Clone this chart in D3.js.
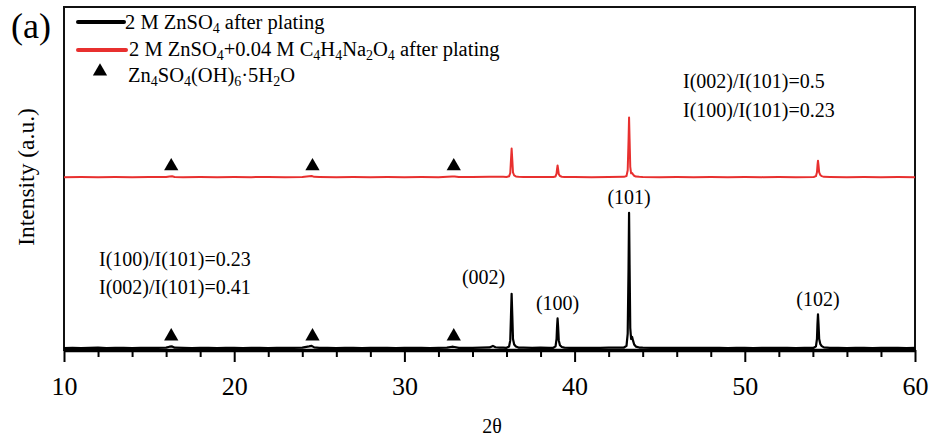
<!DOCTYPE html>
<html>
<head>
<meta charset="utf-8">
<script src="https://cdn.jsdelivr.net/npm/d3@7"></script>
<style>
  html, body { margin: 0; padding: 0; background: #fff; }
  svg { display: block; }
  text { font-family: "Liberation Serif", "Times New Roman", serif; fill: #000; }
</style>
</head>
<body>
<svg id="chart" width="935" height="444"></svg>
<script>
// XRD patterns of Zn deposits, [2θ (deg), intensity (counts)]
const pattern_ZnSO4 = [
  [10,14],[10.5,16],[11,13],[11.5,15],[12,17],[12.5,14],[13,15],[13.5,16],[14,14],[14.5,15],
  [15,16],[15.5,15],[16.0,17],[16.2,24],[16.35,26],[16.5,17],[17,15],[17.5,14],[18,16],[18.5,15],
  [19,14],[19.5,16],[20,15],[20.5,14],[21,16],[21.5,15],[22,14],[22.5,16],[23,15],[23.5,16],
  [24,17],[24.4,26],[24.55,30],[24.7,19],[25,16],[25.5,15],[26,14],[26.5,16],[27,15],[27.5,14],
  [28,15],[28.5,16],[29,15],[29.5,14],[30,15],[30.5,16],[31,15],[31.5,14],[32,16],[32.5,17],
  [32.8,24],[32.95,22],[33.2,16],[33.5,15],[34,16],[34.5,17],[35,19],[35.2,30],[35.35,20],[35.6,17],
  [35.8,18],[36.0,16],[36.15,25],[36.22,70],[36.26,240],[36.3,410],[36.34,250],[36.38,80],[36.45,40],[36.55,25],
  [36.7,18],[37,17],[37.5,16],[38,17],[38.5,16],[38.75,16],[38.88,26],[38.94,80],[38.97,170],[39.0,230],
  [39.03,170],[39.07,70],[39.14,35],[39.25,22],[39.4,17],[39.7,16],[40,15],[40.5,16],[41,15],[41.5,16],
  [42,17],[42.5,17],[42.9,18],[43.05,30],[43.12,120],[43.17,600],[43.2,1000],[43.23,620],[43.27,160],[43.32,80],
  [43.38,95],[43.43,70],[43.5,40],[43.6,25],[43.8,18],[44,17],[44.5,16],[45,15],[45.5,16],[46,15],
  [46.5,16],[47,16],[47.5,15],[48,15],[48.5,16],[49,14],[49.5,15],[50,15],[50.5,14],[51,16],
  [51.5,15],[52,15],[52.5,16],[53,14],[53.5,16],[54.05,16],[54.18,26],[54.24,80],[54.27,190],[54.3,260],
  [54.33,190],[54.37,80],[54.44,42],[54.52,28],[54.65,19],[55,16],[55.5,15],[56,14],[56.5,15],[57,16],
  [57.5,14],[58,15],[58.5,16],[59,15],[59.5,14],[60,15]
];

const pattern_ZnSO4_C4H4Na2O4 = [
  [10,20],[11,21],[12,20],[13,21],[14,20],[15,21],[16.0,21],[16.2,25],[16.35,26],[16.5,21],
  [17,20],[18,21],[19,20],[20,21],[21,20],[22,21],[23,20],[24,21],[24.4,26],[24.55,28],
  [24.7,22],[25,21],[26,20],[27,21],[28,20],[29,21],[30,20],[31,21],[32,20],[32.8,25],
  [32.95,24],[33.2,21],[34,21],[35,22],[35.8,22],[36.0,21],[36.15,26],[36.22,50],[36.26,140],[36.3,228],
  [36.34,145],[36.38,55],[36.45,32],[36.55,25],[36.7,22],[37,21],[38,21],[38.75,21],[38.88,25],[38.94,45],
  [38.97,80],[39.0,105],[39.03,80],[39.07,42],[39.14,28],[39.25,23],[39.4,21],[40,21],[41,20],[42,21],
  [42.9,22],[43.05,28],[43.12,70],[43.17,290],[43.2,455],[43.23,300],[43.27,95],[43.32,48],[43.38,50],[43.43,40],
  [43.5,30],[43.6,24],[43.8,22],[44,21],[45,20],[46,21],[47,20],[48,21],[49,20],[50,21],
  [51,20],[52,21],[53,20],[54.05,21],[54.18,27],[54.24,55],[54.27,105],[54.3,140],[54.33,108],[54.37,55],
  [54.44,35],[54.52,27],[54.65,22],[55,21],[56,20],[57,21],[58,20],[59,21],[60,20]
];

// vertical shift of the stacked upper pattern (counts)
const stackOffset = 1240;

// Zn4SO4(OH)6·5H2O reflections marked on both patterns
const hydroxySulfatePeaks = [16.3, 24.6, 32.9];
const markerLevel = 100;

// Zn reflections labelled on the lower pattern
const znPeakLabels = [
  { hkl: "(002)", pos: 36.3, I: 410 },
  { hkl: "(100)", pos: 39.0, I: 230 },
  { hkl: "(101)", pos: 43.2, I: 1000 },
  { hkl: "(102)", pos: 54.3, I: 260 }
];

const xMajorTicks = [10, 20, 30, 40, 50, 60];
const xMinorTicks = [12, 14, 16, 18, 22, 24, 26, 28, 32, 34, 36, 38, 42, 44, 46, 48, 52, 54, 56, 58];

const ratiosUpper = ["I(002)/I(101)=0.5", "I(100)/I(101)=0.23"];
const ratiosLower = ["I(100)/I(101)=0.23", "I(002)/I(101)=0.41"];

const svg = d3.select("#chart");
const plot = { left: 64, right: 915, top: 7, bottom: 350 };

const x = d3.scaleLinear().domain([10, 60]).range([plot.left, plot.right]);
const y = d3.scaleLinear().domain([0, 2500]).range([plot.bottom, plot.top]);

const serif = '"Liberation Serif", "Times New Roman", serif';

// frame
svg.append("rect")
  .attr("x", plot.left).attr("y", plot.top)
  .attr("width", plot.right - plot.left).attr("height", plot.bottom - plot.top)
  .attr("fill", "none").attr("stroke", "#111").attr("stroke-width", 2);

// patterns
const line = off => d3.line().x(d => x(d[0])).y(d => y(d[1] + off));

svg.append("path").datum(pattern_ZnSO4_C4H4Na2O4)
  .attr("d", line(stackOffset))
  .attr("fill", "none").attr("stroke", "#e8302f").attr("stroke-width", 2)
  .attr("stroke-linejoin", "round");

svg.append("path").datum(pattern_ZnSO4)
  .attr("d", line(0))
  .attr("fill", "none").attr("stroke", "#000").attr("stroke-width", 2.2)
  .attr("stroke-linejoin", "round");

// bottom axis: major and minor ticks
const axisMajor = d3.axisBottom(x).tickValues(xMajorTicks).tickSize(12).tickSizeOuter(0)
  .tickFormat(d3.format("d"));
const gx = svg.append("g").attr("transform", `translate(0,${plot.bottom})`).call(axisMajor);
gx.attr("font-family", null).attr("font-size", null);
gx.select(".domain").attr("stroke", "#000").attr("stroke-width", 3.5);
gx.selectAll(".tick line").attr("stroke", "#000").attr("stroke-width", 2);
gx.selectAll(".tick text")
  .attr("y", 45).attr("dy", 0)
  .style("font-family", serif)
  .style("font-size", "26px").attr("fill", "#000");

const axisMinor = d3.axisBottom(x).tickValues(xMinorTicks).tickSize(7).tickSizeOuter(0).tickFormat("");
const gm = svg.append("g").attr("transform", `translate(0,${plot.bottom})`).call(axisMinor);
gm.select(".domain").remove();
gm.selectAll(".tick line").attr("stroke", "#000").attr("stroke-width", 2);

// hydroxysulfate markers
const tri = d3.symbol().type(d3.symbolTriangle).size(88);
[0, stackOffset].forEach(off => {
  svg.selectAll(null).data(hydroxySulfatePeaks).enter().append("path")
    .attr("d", tri)
    .attr("transform", d => `translate(${x(d)},${y(markerLevel + off)})`)
    .attr("fill", "#000");
});

// hkl labels
svg.selectAll(null).data(znPeakLabels).enter().append("text")
  .attr("x", d => d.hkl === "(002)" ? x(d.pos) - 28 : x(d.pos))
  .attr("y", d => y(d.I) - (d.hkl === "(101)" ? 9 : d.hkl === "(002)" ? 10 : 8))
  .attr("text-anchor", "middle")
  .style("font-family", serif).style("font-size", "20px")
  .text(d => d.hkl);

// intensity ratio notes
svg.selectAll(null).data(ratiosUpper).enter().append("text")
  .attr("x", 683).attr("y", (d, i) => 88 + i * 29)
  .style("font-family", serif).style("font-size", "20px").text(d => d);
svg.selectAll(null).data(ratiosLower).enter().append("text")
  .attr("x", 99).attr("y", (d, i) => 266 + i * 28)
  .style("font-family", serif).style("font-size", "20px").text(d => d);

// legend
function richText(sel, parts) {
  parts.forEach(p => {
    if (typeof p === "string") sel.append("tspan").text(p);
    else sel.append("tspan").attr("baseline-shift", "-30%").style("font-size", "14px").text(p.sub);
  });
}
const legend = svg.append("g");
legend.append("line").attr("x1", 78).attr("x2", 124).attr("y1", 22).attr("y2", 22)
  .attr("stroke", "#000").attr("stroke-width", 4).attr("stroke-linecap", "round");
legend.append("line").attr("x1", 78).attr("x2", 126).attr("y1", 50).attr("y2", 50)
  .attr("stroke", "#e8302f").attr("stroke-width", 4).attr("stroke-linecap", "round");
legend.append("path").attr("d", tri).attr("transform", "translate(100,71.5)").attr("fill", "#000");

const t1 = legend.append("text").attr("x", 125).attr("y", 29)
  .style("font-family", serif).style("font-size", "20.5px");
richText(t1, ["2 M ZnSO", { sub: "4" }, " after plating"]);
const t2 = legend.append("text").attr("x", 129).attr("y", 56)
  .style("font-family", serif).style("font-size", "20.5px");
richText(t2, ["2 M ZnSO", { sub: "4" }, "+0.04 M C", { sub: "4" }, "H", { sub: "4" }, "Na", { sub: "2" }, "O", { sub: "4" }, " after plating"]);
const t3 = legend.append("text").attr("x", 128).attr("y", 82)
  .style("font-family", serif).style("font-size", "20.5px");
richText(t3, ["Zn", { sub: "4" }, "SO", { sub: "4" }, "(OH)", { sub: "6" }, "·5H", { sub: "2" }, "O"]);

// panel tag
svg.append("text").attr("x", 11).attr("y", 38)
  .style("font-family", serif).style("font-size", "36px").text("(a)");

// axis titles
svg.append("text")
  .attr("transform", "translate(34,177) rotate(-90)")
  .attr("text-anchor", "middle")
  .style("font-family", serif).style("font-size", "23.5px")
  .text("Intensity (a.u.)");
svg.append("text").attr("x", 492).attr("y", 433).attr("text-anchor", "middle")
  .style("font-family", serif).style("font-size", "20px").text("2θ");
</script>
</body>
</html>
